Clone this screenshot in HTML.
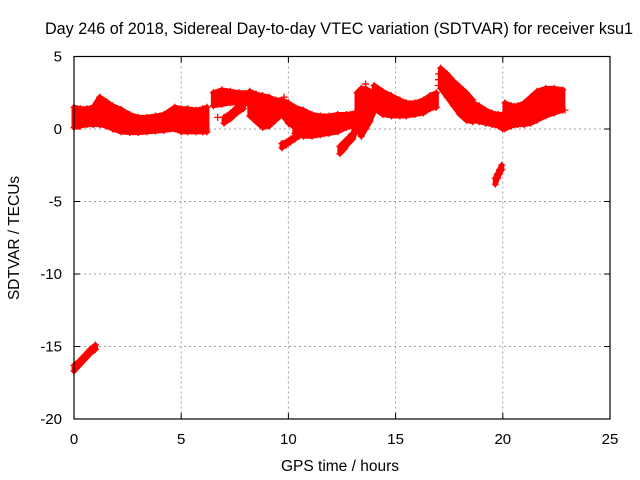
<!DOCTYPE html>
<html><head><meta charset="utf-8"><style>
body{margin:0;background:#fff;}
svg{display:block;font-family:"Liberation Sans",sans-serif;}
</style></head><body>
<svg id="chart" width="640" height="480">
<text x="339" y="34" font-size="16.2" text-anchor="middle">Day 246 of 2018, Sidereal Day-to-day VTEC variation (SDTVAR) for receiver ksu1</text>
<text x="340" y="471" font-size="15.5" text-anchor="middle">GPS time / hours</text>
<text transform="translate(19,238) rotate(-90)" font-size="15.5" text-anchor="middle">SDTVAR / TECUs</text>
<g id="grid"></g>
<g id="ticks"></g>
<g id="marks"></g>
<rect x="74" y="56.5" width="536" height="362.5" fill="none" stroke="#000" stroke-width="1.2"/>
</svg>
<script>
const xTicks=[0,5,10,15,20,25];
const yTicks=[5,0,-5,-10,-15,-20];
const segTimes=[
 [0,0.25,0.5,0.75,1.0],
 [0,0.3,0.6,0.9,1.2,1.5,1.8,2.2,2.6,3.0,3.4,3.8,4.2,4.7,5.0,5.3,5.7,6.0,6.2],
 [6.5,6.9,7.3,7.7,8.2],
 [7.0,7.3,7.6,7.9],
 [8.2,8.5,8.8,9.1,9.4,9.7,10.0,10.3],
 [9.7,9.9,10.1,10.3,10.5],
 [10.3,10.7,11.1,11.5,11.9,12.3,12.7,13.1],
 [12.4,12.6,12.8,13.0,13.1],
 [13.2,13.4,13.6,13.8,14.0],
 [14.0,14.4,14.8,15.2,15.5,15.9,16.3,16.6,16.9],
 [17.1,17.4,17.7,18.0,18.3,18.6],
 [18.6,18.9,19.2,19.5,19.8,20.0],
 [19.65,19.75,19.85,19.95],
 [20.1,20.4,20.7,21.0,21.3,21.6,22.0,22.4,22.8]
];
const segHi=[
 [-16.3,-16.0,-15.6,-15.2,-14.9],
 [1.5,1.4,1.4,1.5,2.2,1.9,1.6,1.35,1.0,0.8,0.8,0.9,1.0,1.5,1.4,1.4,1.3,1.4,1.5],
 [2.5,2.7,2.6,2.5,2.5],
 [0.8,1.1,1.5,1.8],
 [2.6,2.4,2.3,2.2,2.0,2.0,1.8,1.5],
 [-1.0,-0.9,-0.7,-0.5,-0.3],
 [1.5,1.3,1.0,0.9,0.9,1.0,1.0,1.1],
 [-1.2,-0.9,-0.6,-0.3,0.0],
 [2.5,2.8,2.8,2.6,2.5],
 [3.0,2.6,2.3,2.0,1.8,1.8,2.0,2.3,2.5],
 [4.2,3.8,3.3,2.9,2.5,2.0],
 [1.8,1.6,1.3,1.1,1.0,1.0],
 [-3.4,-3.1,-2.8,-2.5],
 [1.8,1.6,1.6,1.8,2.2,2.6,2.8,2.8,2.7]
];
const segLo=[
 [-16.7,-16.3,-15.9,-15.5,-15.2],
 [0.1,0.2,0.3,0.3,0.3,0.2,0.0,-0.2,-0.25,-0.25,-0.2,-0.15,-0.1,0.0,-0.2,-0.2,-0.2,-0.2,-0.2],
 [1.6,1.7,1.8,1.8,1.7],
 [0.4,0.7,1.1,1.4],
 [0.9,0.5,0.1,0.2,0.6,1.0,0.4,0.1],
 [-1.3,-1.1,-0.9,-0.7,-0.5],
 [-0.3,-0.5,-0.5,-0.4,-0.3,-0.2,0.1,0.2],
 [-1.7,-1.4,-1.0,-0.7,-0.3],
 [0.0,-0.5,0.0,0.5,1.2],
 [1.4,1.0,0.9,0.9,0.9,1.0,1.1,1.4,1.5],
 [2.8,2.2,1.6,1.0,0.6,0.5],
 [0.6,0.5,0.4,0.3,0.2,0.0],
 [-3.8,-3.4,-3.1,-2.8],
 [0.0,0.2,0.3,0.3,0.4,0.6,0.9,1.1,1.3]
];
const extraT=[6.7,17.0,17.0,17.0,22.9,13.6,9.8];
const extraV=[0.8,3.8,3.4,3.0,1.3,3.1,2.2];

const sx=t=>74+t*536/25;
const sy=v=>56.5+(5-v)*362.5/25;
const NS='http://www.w3.org/2000/svg';
const grid=document.getElementById('grid'),ticks=document.getElementById('ticks'),marks=document.getElementById('marks');
function mk(tag,attrs,parent){const e=document.createElementNS(NS,tag);for(const k in attrs)e.setAttribute(k,attrs[k]);parent.appendChild(e);return e;}
xTicks.forEach(t=>{
 const x=sx(t);
 if(t>0&&t<25){const g=mk('line',{x1:x,y1:56.5,x2:x,y2:419,stroke:'#a0a0a0','stroke-dasharray':'2,3'},grid);
 
 }
 mk('line',{x1:x,y1:419,x2:x,y2:413,stroke:'#000'},ticks);
 mk('line',{x1:x,y1:56.5,x2:x,y2:62.5,stroke:'#000'},ticks);
 const l=mk('text',{x:x,y:444,'font-size':15,'text-anchor':'middle'},ticks);l.textContent=t;
 
 
});
yTicks.forEach(v=>{
 const y=sy(v);
 if(v<5&&v>-20){const g=mk('line',{x1:74,y1:y,x2:610,y2:y,stroke:'#a0a0a0','stroke-dasharray':'2,3'},grid);
 
 }
 mk('line',{x1:74,y1:y,x2:80,y2:y,stroke:'#000'},ticks);
 mk('line',{x1:610,y1:y,x2:604,y2:y,stroke:'#000'},ticks);
 const l=mk('text',{x:62,y:y+5,'font-size':15,'text-anchor':'end'},ticks);l.textContent=v;
 
 
});
function plus(t,v){
 const x=sx(t),y=sy(v);
 const p=mk('path',{d:`M${x-3.5},${y}H${x+3.5}M${x},${y-3.5}V${y+3.5}`,stroke:'#ff0000','stroke-width':1.3,fill:'none'},marks);
 
 
}
segTimes.forEach((ts,i)=>{
 const hi=segHi[i],lo=segLo[i];
 let d='M'+ts.map((t,j)=>sx(t)+','+sy(hi[j])).join('L')+'L'+ts.map((t,j)=>sx(t)+','+sy(lo[j])).reverse().join('L')+'Z';
 const b=mk('path',{d:d,fill:'#ff0000',stroke:'#ff0000','stroke-width':5,'stroke-linejoin':'round'},marks);
 
 
 ts.forEach((t,j)=>{plus(t,hi[j]);plus(t,lo[j]);});
});
extraT.forEach((t,j)=>plus(t,extraV[j]));
</script>
</body></html>
